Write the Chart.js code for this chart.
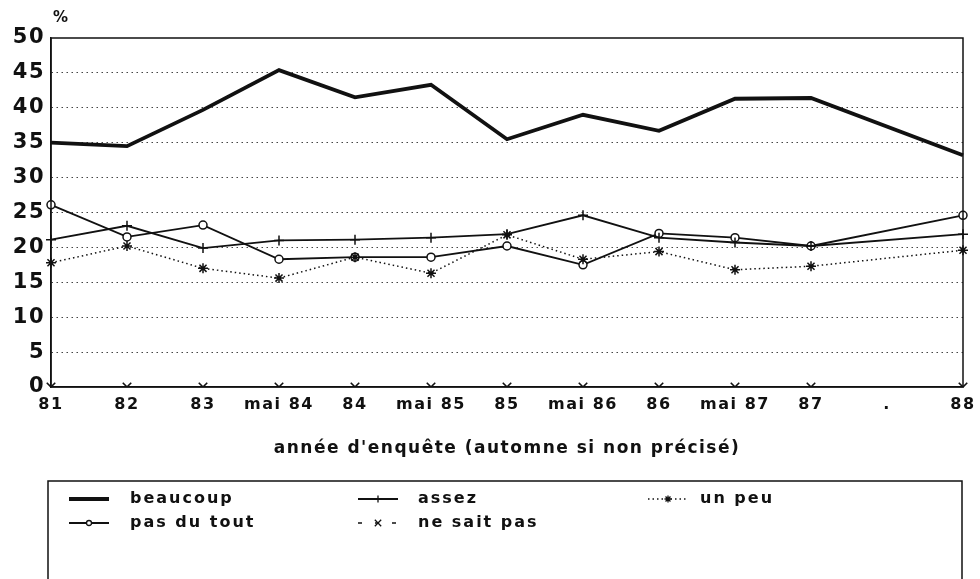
<!DOCTYPE html>
<html>
<head>
<meta charset="utf-8">
<script src="https://cdn.jsdelivr.net/npm/chart.js@4/dist/chart.umd.min.js"></script>
<style>
  html, body { margin: 0; padding: 0; background: #fff; }
</style>
</head>
<body>
<canvas id="chart" width="980" height="579"></canvas>
<script>
const categories = ['81', '82', '83', 'mai 84', '84', 'mai 85', '85', 'mai 86', '86', 'mai 87', '87', '.', '88'];
const yTicks = [0, 5, 10, 15, 20, 25, 30, 35, 40, 45, 50];

const beaucoup  = [35.0, 34.5, 39.7, 45.4, 41.5, 43.3, 35.5, 39.0, 36.7, 41.3, 41.4, null, 33.2];
const assez     = [21.1, 23.1, 19.9, 21.0, 21.1, 21.4, 21.9, 24.6, 21.4, 20.7, 20.2, null, 21.9];
const unPeu     = [17.8, 20.2, 17.0, 15.6, 18.6, 16.3, 21.8, 18.3, 19.4, 16.8, 17.3, null, 19.6];
const pasDuTout = [26.1, 21.5, 23.2, 18.3, 18.6, 18.6, 20.2, 17.5, 22.0, 21.4, 20.2, null, 24.6];
const neSaitPas = [0, 0, 0, 0, 0, 0, 0, 0, 0, 0, 0, null, 0];

const FONT = "'DejaVu Sans', 'Liberation Sans', sans-serif";
const INK = '#111';

// wide lettering like the original print
const spacingPlugin = {
  id: 'spacing',
  beforeLayout(chart) { chart.ctx.letterSpacing = '1.5px'; },
  beforeDraw(chart) {
    const ctx = chart.ctx;
    ctx.letterSpacing = '1.5px';
    ctx.save();
    ctx.fillStyle = '#fff';
    ctx.fillRect(0, 0, chart.width, chart.height);
    ctx.restore();
  }
};

const framePlugin = {
  id: 'frame',
  afterDraw(chart) {
    const { ctx, chartArea: a } = chart;
    ctx.save();
    ctx.strokeStyle = INK;
    ctx.lineWidth = 1.5;
    ctx.strokeRect(a.left, a.top, a.right - a.left, a.bottom - a.top);
    ctx.fillStyle = INK;
    ctx.font = 'bold 15px ' + FONT;
    ctx.textAlign = 'left';
    ctx.textBaseline = 'middle';
    ctx.fillText('%', a.left + 2, 18);
    ctx.restore();
  }
};

const legendPlugin = {
  id: 'boxLegend',
  afterDraw(chart) {
    const ctx = chart.ctx;
    const sampleX = [69, 358, 648];
    const textX = [130, 418, 700];
    const rowY = [499, 523];
    ctx.save();
    ctx.strokeStyle = INK;
    ctx.lineWidth = 1.5;
    ctx.beginPath();
    ctx.moveTo(48, 590);
    ctx.lineTo(48, 481);
    ctx.lineTo(962, 481);
    ctx.lineTo(962, 590);
    ctx.stroke();

    chart.data.datasets.forEach((ds, i) => {
      const col = i % 3, row = Math.floor(i / 3);
      const x0 = sampleX[col], x1 = x0 + 40, y = rowY[row];
      ctx.save();
      ctx.strokeStyle = INK;
      ctx.fillStyle = '#fff';
      ctx.lineWidth = ds.borderWidth;
      ctx.setLineDash(ds.legendDash || ds.borderDash || []);
      ctx.beginPath();
      ctx.moveTo(x0, y);
      ctx.lineTo(x1, y);
      ctx.stroke();
      ctx.setLineDash([]);
      if (ds.pointRadius > 0) {
        ctx.lineWidth = 1.3;
        Chart.helpers.drawPoint(ctx, {
          pointStyle: ds.pointStyle, radius: ds.pointRadius - 1.5, rotation: 0, borderWidth: 1.3
        }, (x0 + x1) / 2, y);
      }
      ctx.restore();

      ctx.fillStyle = INK;
      ctx.font = 'bold 16px ' + FONT;
      ctx.letterSpacing = '2px';
      ctx.textAlign = 'left';
      ctx.textBaseline = 'middle';
      ctx.fillText(ds.label, textX[col], y);
    });
    ctx.restore();
  }
};

new Chart(document.getElementById('chart'), {
  type: 'line',
  data: {
    labels: categories,
    datasets: [
      { label: 'beaucoup', data: beaucoup, borderColor: INK, borderWidth: 3.8,
        pointRadius: 0, spanGaps: true, clip: false },
      { label: 'assez', data: assez, borderColor: INK, borderWidth: 1.8,
        pointStyle: 'cross', pointRadius: 5, pointBorderWidth: 1.5, pointBorderColor: INK,
        spanGaps: true, clip: false },
      { label: 'un peu', data: unPeu, borderColor: INK, borderWidth: 1.5, borderDash: [1.5, 3],
        pointStyle: 'star', pointRadius: 5, pointBorderWidth: 1.5, pointBorderColor: INK,
        spanGaps: true, clip: false },
      { label: 'pas du tout', data: pasDuTout, borderColor: INK, borderWidth: 1.8,
        pointStyle: 'circle', pointRadius: 4, pointBorderWidth: 1.5, pointBorderColor: INK,
        pointBackgroundColor: '#fff', spanGaps: true, clip: false },
      { label: 'ne sait pas', data: neSaitPas, borderColor: INK, borderWidth: 1.5, borderDash: [7, 7],
        legendDash: [4, 13], pointStyle: 'crossRot', pointRadius: 6, pointBorderWidth: 1.6,
        pointBorderColor: INK, spanGaps: true }
    ]
  },
  options: {
    responsive: false,
    animation: false,
    devicePixelRatio: 1,
    layout: { padding: { top: 38, left: 0, right: 17, bottom: 120 } },
    plugins: { legend: { display: false }, tooltip: { enabled: false } },
    elements: { line: { tension: 0 } },
    scales: {
      x: {
        offset: false,
        grid: { display: false, drawTicks: false },
        border: { display: true, color: INK, width: 1.5 },
        ticks: { color: INK, padding: 8, maxRotation: 0, autoSkip: false,
          font: { family: FONT, size: 16, weight: 'bold' } },
        title: { display: true, text: "année d'enquête (automne si non précisé)", color: INK,
          padding: { top: 0, bottom: 0 }, font: { family: FONT, size: 17, weight: 'bold' } },
        afterFit(scale) {
          scale.height = 72;
          scale.paddingRight = 0;
          scale.paddingLeft = 0;
        }
      },
      y: {
        min: 0, max: 50,
        afterBuildTicks(scale) { scale.ticks = yTicks.map(v => ({ value: v })); },
        grid: {
          drawTicks: false, lineWidth: 1,
          color: c => (c.tick.value === 0 || c.tick.value === 50) ? 'rgba(0,0,0,0)' : '#444'
        },
        border: { display: true, color: INK, width: 1.5, dash: [1.5, 3.5] },
        ticks: { color: INK, padding: 6, font: { family: FONT, size: 21, weight: 'bold' } },
        afterFit(scale) { scale.width = 51; }
      }
    }
  },
  plugins: [spacingPlugin, framePlugin, legendPlugin]
});
</script>
</body>
</html>
